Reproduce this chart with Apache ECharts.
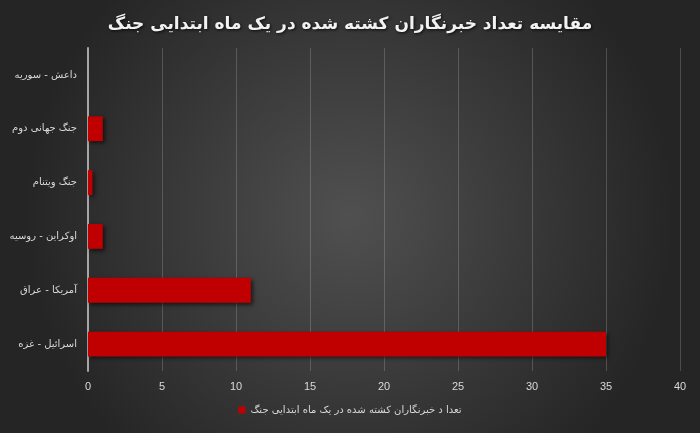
<!DOCTYPE html>
<html><head><meta charset="utf-8">
<script src="https://cdn.jsdelivr.net/npm/echarts@6/dist/echarts.min.js"></script>
<style>html,body{margin:0;padding:0;background:#333;}#c{width:700px;height:433px;}</style>
</head><body><div id="c"></div>
<script>
const categories = ['اسرائیل - غزه','آمریکا - عراق','اوکراین - روسیه','جنگ ویتنام','جنگ جهانی دوم','داعش - سوریه'];
const values = [35, 11, 1, 0.3, 1, 0];
const xTicks = [0,5,10,15,20,25,30,35,40];
const seriesName = 'تعدا د خبرنگاران کشته شده در یک ماه ابتدایی جنگ';
const titleText = 'مقایسه تعداد خبرنگاران کشته شده در یک ماه ابتدایی جنگ';

const chart = echarts.init(document.getElementById('c'));
chart.setOption({
  backgroundColor: {
    type: 'radial', x: 0.5, y: 0.5, r: 0.75,
    colorStops: [{offset: 0, color: '#505050'}, {offset: 1, color: '#252525'}]
  },
  title: {
    text: titleText, left: 'center', top: 11,
    textStyle: {color: '#f2f2f2', fontSize: 17, fontWeight: 'bold', fontFamily: 'DejaVu Sans',
      textShadowColor: 'rgba(0,0,0,0.8)', textShadowBlur: 3, textShadowOffsetX: 1, textShadowOffsetY: 1}
  },
  grid: {left: 88, right: 20, top: 48, bottom: 62},
  xAxis: {
    type: 'value', min: 0, max: 40, interval: 5,
    axisLine: {show: false}, axisTick: {show: false},
    splitLine: {lineStyle: {color: 'rgba(217,217,217,0.22)', width: 1}},
    axisLabel: {color: '#d9d9d9', fontSize: 11, margin: 10, fontFamily: 'Liberation Sans',
      formatter: v => xTicks.includes(v) ? String(v) : ''}
  },
  yAxis: {
    type: 'category', data: categories,
    axisLine: {lineStyle: {color: '#a6a6a6', width: 2}}, axisTick: {show: false},
    axisLabel: {color: '#d9d9d9', fontSize: 10, margin: 11, fontFamily: 'DejaVu Sans'}
  },
  legend: {
    bottom: 13, left: 'center', itemWidth: 7, itemHeight: 7, itemGap: 3,
    textStyle: {color: '#d9d9d9', fontSize: 10, fontFamily: 'DejaVu Sans'},
    data: [{name: seriesName, icon: 'rect'}]
  },
  series: [{
    name: seriesName, type: 'bar', data: values, barWidth: '46%',
    itemStyle: {color: '#c00000', shadowColor: 'rgba(0,0,0,0.6)', shadowBlur: 4, shadowOffsetX: 2, shadowOffsetY: 2}
  }]
});
</script></body></html>
